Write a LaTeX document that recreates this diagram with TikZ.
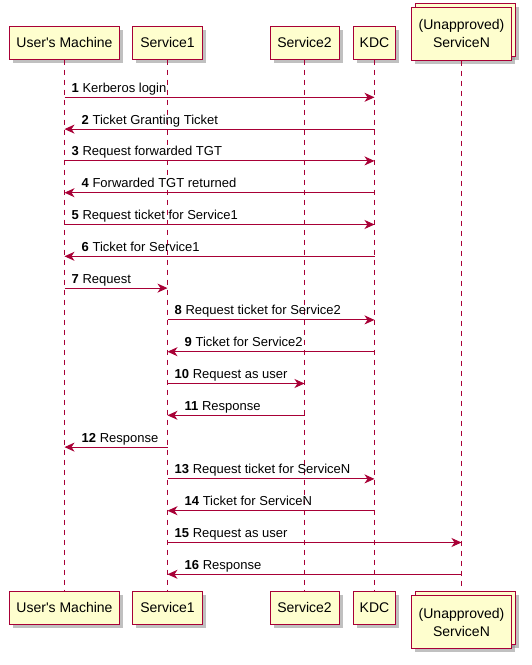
\documentclass[tikz,border=0pt]{standalone}
\usepackage{fontspec}
\setmainfont{Liberation Sans}
\usetikzlibrary{arrows.meta, shadows}

\definecolor{umlred}{HTML}{A80036}
\definecolor{umlfill}{HTML}{FEFECE}

\tikzset{
    part/.style={draw=umlred, fill=umlfill, line width=1pt, minimum height=33pt,
        inner sep=0pt, align=center, font=\fontsize{14}{18}\selectfont,
        drop shadow={shadow xshift=3.5pt, shadow yshift=-3.5pt, fill=black!45, opacity=0.55}},
    stacked/.style={part, minimum height=52.7pt,
        drop shadow={shadow xshift=7.5pt, shadow yshift=0.5pt, fill=black!45, opacity=0.55},
        copy shadow={shadow xshift=4pt, shadow yshift=4pt}},
    lifeline/.style={draw=umlred, line width=1pt, dash pattern=on 5pt off 5pt},
    msg/.style={draw=umlred, line width=1pt, -{Stealth[length=10pt, width=9pt, inset=3pt]}},
    msglabel/.style={anchor=base west, inner sep=0pt}
}

\begin{document}
\begin{tikzpicture}[x=1pt, y=-1pt, font=\fontsize{13}{17}\selectfont]

\useasboundingbox (0,0) rectangle (532,665);

% draw participants, top and bottom
\node[part, minimum width=110pt] (umTop) at (64.5, 42.7) {User\textquotesingle s Machine};
\node[part, minimum width=69.4pt] (saTop) at (167.5, 42.7) {Service1};
\node[part, minimum width=69pt] (sbTop) at (304.5, 42.7) {Service2};
\node[part, minimum width=42.7pt] (kdcTop) at (374.5, 42.7) {KDC};
\node[stacked, minimum width=100.7pt] (snTop) at (461.5, 33.7) {(Unapproved)\\ServiceN};

\node[part, minimum width=110pt] (umBot) at (64.5, 607.8) {User\textquotesingle s Machine};
\node[part, minimum width=69.4pt] (saBot) at (167.5, 607.8) {Service1};
\node[part, minimum width=69pt] (sbBot) at (304.5, 607.8) {Service2};
\node[part, minimum width=42.7pt] (kdcBot) at (374.5, 607.8) {KDC};
\node[stacked, minimum width=100.7pt] (snBot) at (461.5, 622) {(Unapproved)\\ServiceN};

% draw lifelines
\foreach \p in {um, sa, sb, kdc}
{
    \draw[lifeline] (\p Top) -- (\p Bot);
}
\draw[lifeline, shorten >=6pt] (snTop) -- (snBot);

% draw messages
\foreach \n/\from/\to/\lft/\dx/\txt in {
    1/um/kdc/um/7/Kerberos login,
    2/kdc/um/um/17/Ticket Granting Ticket,
    3/um/kdc/um/7/Request forwarded TGT,
    4/kdc/um/um/17/Forwarded TGT returned,
    5/um/kdc/um/7/Request ticket for Service1,
    6/kdc/um/um/17/Ticket for Service1,
    7/um/sa/um/7/Request,
    8/sa/kdc/sa/7/Request ticket for Service2,
    9/kdc/sa/sa/17/Ticket for Service2,
    10/sa/sb/sa/7/Request as user,
    11/sb/sa/sa/17/Response,
    12/sa/um/um/17/Response,
    13/sa/kdc/sa/7/Request ticket for ServiceN,
    14/kdc/sa/sa/17/Ticket for ServiceN,
    15/sa/sn/sa/7/Request as user,
    16/sn/sa/sa/17/Response}
{
    \pgfmathsetmacro\y{97.3 + (\n - 1) * 31.8}
    \draw[msg] (\from Top |- 0,\y) -- (\to Top |- 0,\y);
    \node[msglabel, xshift=\dx pt, yshift=5pt] (lab\n) at (\lft Top |- 0,\y) {\textbf{\n}~\txt};
}

\end{tikzpicture}
\end{document}
